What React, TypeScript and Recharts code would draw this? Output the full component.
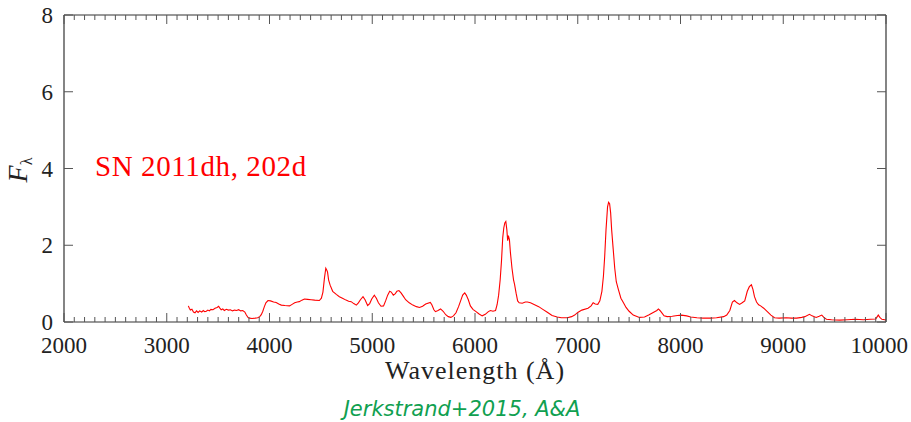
import React from 'react';
import { LineChart, Line, XAxis, YAxis } from 'recharts';

const wavelength = [
  3210, 3220, 3230, 3245, 3260, 3275, 3290, 3305, 3320, 3340, 3355, 3370, 3385, 3400, 3415, 3430, 3450, 3470, 3490, 3505,
  3515, 3530, 3545, 3560, 3580, 3600, 3620, 3640, 3660, 3680, 3700, 3720, 3740, 3760, 3775, 3790, 3805, 3830, 3860, 3885,
  3905, 3920, 3935, 3950, 3965, 3985, 4010, 4040, 4065, 4090, 4115, 4150, 4195, 4220, 4245, 4270, 4290, 4315, 4340, 4370,
  4405, 4440, 4485, 4505, 4520, 4535, 4548, 4558, 4565, 4575, 4590, 4615, 4650, 4680, 4710, 4745, 4770, 4795, 4820, 4845,
  4865, 4885, 4910, 4930, 4955, 4975, 4995, 5020, 5040, 5060, 5085, 5110, 5130, 5150, 5170, 5185, 5205, 5225, 5240, 5260,
  5280, 5300, 5325, 5360, 5395, 5430, 5460, 5490, 5520, 5565, 5580, 5600, 5615, 5640, 5665, 5690, 5715, 5740, 5765, 5790,
  5815, 5840, 5860, 5880, 5900, 5915, 5935, 5955, 5980, 6010, 6040, 6070, 6100, 6130, 6150, 6175, 6200, 6215, 6230, 6245,
  6258, 6270, 6280, 6290, 6300, 6310, 6318, 6325, 6335, 6345, 6360, 6375, 6385, 6400, 6415, 6430, 6460, 6490, 6510, 6540,
  6580, 6620, 6660, 6700, 6750, 6800, 6840, 6900, 6940, 6970, 7000, 7040, 7100, 7130, 7150, 7170, 7195, 7215, 7235, 7250,
  7262, 7275, 7290, 7300, 7310, 7320, 7330, 7345, 7360, 7375, 7395, 7420, 7445, 7470, 7500, 7540, 7600, 7650, 7690, 7730,
  7770, 7785, 7800, 7815, 7840, 7870, 7920, 7970, 8010, 8060, 8100, 8160, 8220, 8290, 8350, 8420, 8450, 8480, 8505, 8525,
  8550, 8575, 8600, 8625, 8650, 8670, 8690, 8705, 8720, 8740, 8760, 8780, 8810, 8845, 8880, 8915, 8960, 9030, 9080, 9130,
  9180, 9210, 9255, 9280, 9320, 9350, 9375, 9395, 9420, 9470, 9550, 9620, 9700, 9780, 9850, 9900, 9925, 9940, 9960, 10000,
];

const flux = [
  0.42, 0.36, 0.31, 0.33, 0.26, 0.24, 0.29, 0.25, 0.29, 0.26, 0.30, 0.27, 0.28, 0.31, 0.29, 0.33, 0.32, 0.36, 0.38, 0.41,
  0.37, 0.32, 0.34, 0.30, 0.33, 0.31, 0.32, 0.29, 0.31, 0.30, 0.32, 0.29, 0.30, 0.26, 0.18, 0.12, 0.10, 0.09, 0.10, 0.11,
  0.14, 0.19, 0.28, 0.40, 0.50, 0.56, 0.55, 0.52, 0.51, 0.47, 0.44, 0.43, 0.42, 0.46, 0.50, 0.52, 0.53, 0.57, 0.60, 0.59,
  0.58, 0.57, 0.56, 0.62, 0.78, 1.15, 1.40, 1.35, 1.30, 1.10, 0.96, 0.80, 0.72, 0.66, 0.62, 0.57, 0.54, 0.53, 0.48, 0.44,
  0.50, 0.58, 0.66, 0.58, 0.43, 0.48, 0.60, 0.70, 0.62, 0.50, 0.41, 0.42, 0.55, 0.70, 0.80, 0.78, 0.70, 0.74, 0.80, 0.82,
  0.76, 0.68, 0.58, 0.50, 0.44, 0.40, 0.38, 0.41, 0.47, 0.51, 0.45, 0.32, 0.27, 0.30, 0.34, 0.28, 0.19, 0.14, 0.12, 0.16,
  0.24, 0.40, 0.55, 0.70, 0.76, 0.70, 0.58, 0.42, 0.33, 0.27, 0.21, 0.16, 0.20, 0.27, 0.30, 0.28, 0.30, 0.45, 0.70, 1.10,
  1.60, 2.20, 2.45, 2.58, 2.62, 2.40, 2.12, 2.25, 2.15, 1.80, 1.40, 1.10, 0.98, 0.75, 0.55, 0.50, 0.49, 0.52, 0.52, 0.50,
  0.45, 0.40, 0.33, 0.26, 0.17, 0.13, 0.11, 0.11, 0.14, 0.18, 0.25, 0.31, 0.36, 0.42, 0.50, 0.47, 0.46, 0.55, 0.80, 1.20,
  1.70, 2.40, 3.00, 3.12, 3.08, 2.85, 2.40, 1.90, 1.40, 1.05, 0.85, 0.62, 0.50, 0.38, 0.28, 0.18, 0.12, 0.13, 0.18, 0.24,
  0.30, 0.34, 0.30, 0.25, 0.16, 0.14, 0.15, 0.17, 0.18, 0.16, 0.13, 0.11, 0.10, 0.10, 0.11, 0.14, 0.18, 0.30, 0.52, 0.56,
  0.50, 0.46, 0.50, 0.55, 0.80, 0.92, 0.97, 0.85, 0.66, 0.52, 0.45, 0.42, 0.36, 0.27, 0.18, 0.11, 0.10, 0.11, 0.10, 0.10,
  0.12, 0.14, 0.20, 0.16, 0.12, 0.15, 0.18, 0.12, 0.07, 0.06, 0.05, 0.06, 0.07, 0.06, 0.07, 0.08, 0.18, 0.12, 0.07, 0.05,
];

const xMajorTicks = [2000, 3000, 4000, 5000, 6000, 7000, 8000, 9000, 10000];
const xMinorStep = 100;
const yTicks = [0, 2, 4, 6, 8];

const xAllTicks: number[] = [];
for (let i = 0; i < xMajorTicks.length - 1; i++) {
  for (let j = 0; j < 10; j++) xAllTicks.push(xMajorTicks[i] + j * xMinorStep);
}
xAllTicks.push(xMajorTicks[xMajorTicks.length - 1]);

const data = wavelength.map((w, i) => ({ w, f: flux[i] }));

const AXIS = '#333';
const TICK = '#555';
const SERIF = '"Liberation Serif", "Times New Roman", serif';

const BottomTick = (props: any) => {
  const { x, y, payload } = props;
  const major = xMajorTicks.includes(payload.value);
  const last = payload.value === xMajorTicks[xMajorTicks.length - 1];
  return (
    <g>
      <line x1={x} x2={x} y1={y} y2={y - (major ? 9 : 5)} stroke={TICK} strokeWidth={1} />
      {major && (
        <text
          x={last ? x + 22 : x}
          y={y + 31}
          textAnchor={last ? 'end' : 'middle'}
          fontFamily={SERIF}
          fontSize={23}
          fill="#222"
        >
          {payload.value}
        </text>
      )}
    </g>
  );
};

const TopTick = (props: any) => {
  const { x, y, payload } = props;
  const major = xMajorTicks.includes(payload.value);
  return <line x1={x} x2={x} y1={y} y2={y + (major ? 9 : 5)} stroke={TICK} strokeWidth={1} />;
};

const LeftTick = (props: any) => {
  const { x, y, payload } = props;
  return (
    <g>
      <line x1={x} x2={x + 9} y1={y} y2={y} stroke={TICK} strokeWidth={1} />
      <text x={x - 11} y={y + 8} textAnchor="end" fontFamily={SERIF} fontSize={23} fill="#222">
        {payload.value}
      </text>
    </g>
  );
};

const RightTick = (props: any) => {
  const { x, y } = props;
  return <line x1={x} x2={x - 9} y1={y} y2={y} stroke={TICK} strokeWidth={1} />;
};

export default function App() {
  return (
    <div style={{ position: 'absolute', left: 0, top: 0, width: 911, height: 422, background: '#fff' }}>
      <LineChart width={911} height={422} data={data} margin={{ top: 14, right: 24, left: 0, bottom: 70 }}>
        <XAxis
          xAxisId="b"
          dataKey="w"
          type="number"
          domain={[2000, 10000]}
          ticks={xAllTicks}
          interval={0}
          tickSize={0}
          tickMargin={0}
          tickLine={false}
          height={30}
          axisLine={{ stroke: AXIS, strokeWidth: 1.2 }}
          tick={<BottomTick />}
        />
        <XAxis
          xAxisId="t"
          orientation="top"
          dataKey="w"
          type="number"
          domain={[2000, 10000]}
          ticks={xAllTicks}
          interval={0}
          tickSize={0}
          tickMargin={0}
          tickLine={false}
          height={1}
          axisLine={{ stroke: AXIS, strokeWidth: 1.2 }}
          tick={<TopTick />}
        />
        <YAxis
          yAxisId="l"
          type="number"
          domain={[0, 8]}
          ticks={yTicks}
          interval={0}
          tickSize={0}
          tickMargin={0}
          tickLine={false}
          width={64}
          axisLine={{ stroke: AXIS, strokeWidth: 1.2 }}
          tick={<LeftTick />}
        />
        <YAxis
          yAxisId="r"
          orientation="right"
          type="number"
          domain={[0, 8]}
          ticks={yTicks}
          interval={0}
          tickSize={0}
          tickMargin={0}
          tickLine={false}
          width={1}
          axisLine={{ stroke: AXIS, strokeWidth: 1.2 }}
          tick={<RightTick />}
        />
        <Line
          xAxisId="b"
          yAxisId="l"
          dataKey="f"
          type="linear"
          stroke="#ff0000"
          strokeWidth={1.1}
          dot={false}
          activeDot={false}
          isAnimationActive={false}
        />
        <Line
          xAxisId="t"
          yAxisId="r"
          dataKey="f"
          type="linear"
          stroke="none"
          strokeWidth={0}
          dot={false}
          activeDot={false}
          isAnimationActive={false}
        />
      </LineChart>
      <div
        style={{
          position: 'absolute', left: 95, top: 149, fontFamily: SERIF, fontSize: 29, color: '#ff0000',
          whiteSpace: 'nowrap', letterSpacing: 0.6, lineHeight: '34px',
        }}
      >
        SN 2011dh, 202d
      </div>
      <div
        style={{
          position: 'absolute', left: 475, top: 356, transform: 'translateX(-50%)', fontFamily: SERIF, fontSize: 26,
          color: '#222', whiteSpace: 'nowrap', letterSpacing: 1, lineHeight: '30px',
        }}
      >
        Wavelength (Å)
      </div>
      <div
        style={{
          position: 'absolute', left: 22, top: 170, transform: 'translate(-50%, -50%) rotate(-90deg)',
          fontFamily: SERIF, fontSize: 28, color: '#222', whiteSpace: 'nowrap', lineHeight: '30px',
        }}
      >
        <span style={{ fontStyle: 'italic' }}>F</span>
        <sub style={{ fontSize: 16, verticalAlign: '-5px' }}>λ</sub>
      </div>
      <div
        style={{
          position: 'absolute', left: 462, top: 396, transform: 'translateX(-50%)',
          fontFamily: '"DejaVu Sans", sans-serif', fontStyle: 'italic', fontSize: 21, color: '#10a050',
          whiteSpace: 'nowrap', lineHeight: '26px',
        }}
      >
        Jerkstrand+2015, A&amp;A
      </div>
    </div>
  );
}
